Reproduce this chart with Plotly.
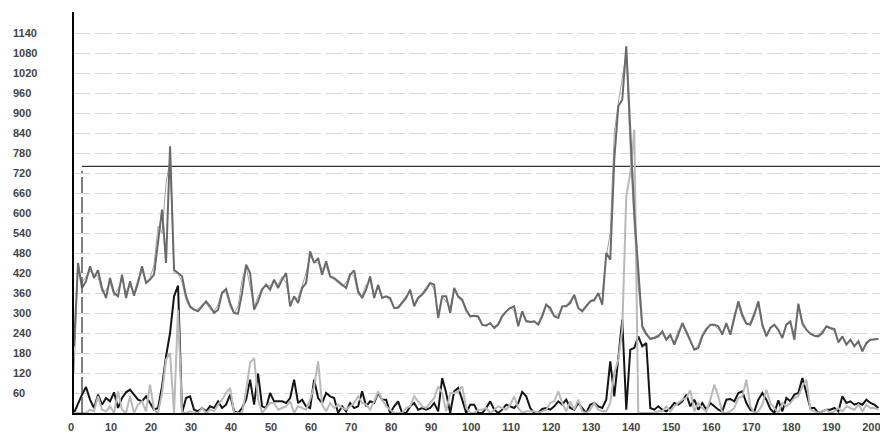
import plotly.graph_objects as go

# ---- data -----------------------------------------------------------------
X_POS = list(range(0, 202))

SERIES_MAIN = [
    200, 450, 375, 395, 440, 405, 428, 375, 345, 405,
    360, 350, 415, 345, 395, 352, 390, 440, 390, 400,
    415, 520, 610, 450, 800, 430, 420, 410, 350, 320,
    310, 305, 320, 335, 320, 300, 310, 360, 372, 330,
    300, 298, 360, 445, 420, 310, 335, 370, 385, 370,
    400, 375, 400, 420, 320, 350, 330, 375, 390, 485,
    450, 465, 415, 455, 410, 405, 395, 385, 375, 415,
    428, 365, 345, 370, 410, 345, 385, 345, 350, 345,
    315, 316, 330, 345, 370, 320, 345, 355, 370, 390,
    385, 285, 350, 350, 300, 375, 350, 340, 310, 290,
    292, 290, 265, 262, 270, 255, 265, 290, 305, 315,
    320, 260, 305, 275, 273, 275, 265, 290, 325, 315,
    290, 285, 320, 320, 330, 355, 315, 305, 320, 335,
    338, 360, 325, 480, 460, 760, 920, 940, 1100, 870,
    600, 430, 260, 238, 222, 225, 230, 245, 220, 235,
    205, 235, 270, 245, 218, 190, 195, 230, 250, 265,
    265, 260, 235, 270, 235, 285, 335, 295, 268, 265,
    295, 335, 265, 230, 255, 265, 250, 225, 265, 275,
    220, 328, 270, 250, 238, 232, 230, 240, 260, 255,
    252, 212, 230, 205, 220, 200, 215, 185, 210, 220,
    222, 222,
]

SERIES_TRACK = [
    120, 430, 390, 410, 425, 418, 410, 362, 368, 392,
    352, 372, 400, 362, 382, 360, 402, 425, 395, 405,
    445, 560, 540, 690, 760, 420, 418, 392, 340, 315,
    308, 312, 326, 330, 312, 305, 325, 365, 362, 318,
    298, 320, 400, 440, 380, 318, 350, 375, 380, 382,
    392, 385, 410, 390, 330, 342, 345, 380, 420, 470,
    455, 450, 432, 440, 408, 400, 390, 380, 390, 420,
    410, 355, 352, 385, 395, 355, 375, 348, 348, 338,
    315, 320, 335, 352, 362, 328, 348, 360, 378, 392,
    370, 300, 350, 335, 318, 370, 345, 335, 302, 290,
    292, 285, 262, 265, 266, 258, 270, 295, 308, 318,
    305, 270, 300, 278, 275, 272, 270, 298, 328, 305,
    292, 295, 318, 322, 338, 348, 312, 310, 325, 338,
    342, 355, 360, 470, 540, 840, 930, 1000, 1080, 790,
    560, 380, 252, 232, 225, 228, 236, 238, 218, 228,
    212, 248, 262, 238, 212, 190, 205, 238, 256, 262,
    262, 252, 242, 262, 240, 298, 322, 285, 266, 272,
    305, 325, 258, 236, 258, 262, 245, 230, 268, 268,
    238, 318, 262, 248, 236, 232, 234, 248, 258, 252,
    246, 218, 225, 210, 215, 205, 210, 192, 205, 218,
    222, 224,
]

SERIES_LOW_DARK = [
    0, 30, 55, 78, 40, 15, 55, 25, 45, 35,
    62, 15, 45, 62, 70, 55, 40, 35, 50, 30,
    10, 15, 80, 170, 240, 350, 382, 0, 45, 50,
    10, 5, 15, 5, 20, 15, 35, 15, 25, 55,
    5, 0, 15, 40, 100, 25, 118, 20, 15, 60,
    35, 35, 35, 30, 45, 100, 30, 40, 20, 15,
    100, 45, 30, 60, 50, 45, 0, 20, 5, 30,
    15, 20, 65, 20, 35, 30, 60, 40, 40, 0,
    20, 35, 0, 0, 20, 30, 10, 15, 10, 15,
    30, 5, 105, 60, 0, 65, 75, 40, 0, 25,
    25, 0, 0, 15, 35, 10, 0, 10, 25, 20,
    15, 30, 63, 50, 15, 0, 0, 12, 15, 10,
    20, 35, 25, 40, 15, 10, 30, 15, 0, 25,
    30, 20, 15, 40, 155, 50, 170, 280, 10, 190,
    195, 230, 200, 210, 15, 10, 20, 10, 5, 15,
    30, 25, 35, 55, 20, 40, 10, 30, 10, 30,
    20, 10, 5, 40, 42, 35, 60, 65, 30, 10,
    5, 40, 60, 40, 12, 0, 38, 5, 45, 35,
    55, 60, 105, 60, 15, 15, 0, 5, 10, 10,
    15, 5, 50, 30, 35, 25, 30, 25, 40, 30,
    25, 15,
]

SERIES_LOW_LIGHT = [
    0, 0, 0, 0, 10, 5, 50, 10, 5, 20,
    0, 65, 10, 0, 50, 0, 25, 35, 5, 85,
    10, 0, 60, 160, 180, 0, 310, 0, 0, 5,
    0, 0, 15, 0, 10, 5, 25, 40, 60, 75,
    0, 0, 0, 65, 150, 165, 40, 0, 15, 30,
    30, 10, 15, 20, 35, 0, 20, 15, 10, 40,
    80, 155, 25, 5, 30, 15, 25, 15, 10, 20,
    30, 50, 30, 25, 10, 35, 65, 40, 20, 10,
    0, 0, 0, 15, 20, 50, 35, 20, 15, 30,
    45, 80, 60, 5, 60, 60, 65, 80, 15, 0,
    0, 10, 10, 15, 0, 10, 20, 15, 10, 25,
    50, 15, 0, 5, 5, 5, 0, 5, 10, 30,
    35, 65, 30, 5, 35, 10, 40, 5, 0, 10,
    30, 10, 5, 5, 30, 120, 160, 250, 650, 720,
    850, 0, 0, 0, 0, 0, 5, 5, 20, 5,
    20, 30, 40, 45, 68, 5, 30, 15, 5, 40,
    85, 50, 0, 0, 5, 15, 45, 50, 100, 20,
    0, 5, 25, 70, 30, 15, 0, 30, 20, 30,
    45, 50, 80, 100, 10, 5, 0, 5, 10, 0,
    5, 15, 5, 20, 15, 10, 25, 5, 25, 15,
    15, 10,
]

X_TICKS = list(range(0, 201, 10))
Y_TICKS = list(range(60, 1141, 60))

THRESHOLD = 740      # horizontal reference level
MARKER_X = 2         # position of the dashed start marker
MARKER_TOP = 727     # height of the dashed start marker

X_MAX = 201.4
Y_MAX = 1203

# ---- figure ---------------------------------------------------------------
FONT = "Liberation Sans"
LABEL_FONT = dict(family=FONT, size=11, color="#454545", weight="bold")

fig = go.Figure()

fig.add_trace(go.Scatter(x=X_POS, y=SERIES_LOW_DARK, mode="lines",
                         line=dict(color="#151515", width=2), hoverinfo="skip"))
fig.add_trace(go.Scatter(x=X_POS, y=SERIES_LOW_LIGHT, mode="lines",
                         line=dict(color="#b9b9b9", width=2), hoverinfo="skip"))
fig.add_trace(go.Scatter(x=X_POS, y=SERIES_TRACK, mode="lines",
                         line=dict(color="#a2a2a2", width=1), hoverinfo="skip"))
fig.add_trace(go.Scatter(x=X_POS, y=SERIES_MAIN, mode="lines",
                         line=dict(color="#6a6a6a", width=2), hoverinfo="skip"))

# threshold line and dashed start marker
fig.add_shape(type="line", xref="x", yref="y",
              x0=MARKER_X, x1=X_MAX, y0=THRESHOLD, y1=THRESHOLD,
              line=dict(color="#333333", width=1.3), layer="below")
fig.add_shape(type="line", xref="x", yref="y",
              x0=MARKER_X, x1=MARKER_X, y0=0, y1=MARKER_TOP,
              line=dict(color="#555555", width=1.5, dash="16px,4px"), layer="above")

# left-aligned value labels for the y axis
for v in Y_TICKS:
    fig.add_annotation(x=0, xref="paper", xanchor="left", xshift=-63,
                       y=v, yref="y", yanchor="middle",
                       text=str(v), showarrow=False, font=LABEL_FONT)

fig.update_layout(
    width=880, height=432, autosize=False,
    margin=dict(l=74, r=0, t=12, b=19),
    paper_bgcolor="white", plot_bgcolor="white",
    showlegend=False,
    font=dict(family=FONT),
    xaxis=dict(
        range=[0, X_MAX], tickvals=X_TICKS, ticktext=[str(t) for t in X_TICKS],
        showgrid=False, zeroline=False, ticks="", automargin=False,
        showline=True, linecolor="#000000", linewidth=2,
        tickfont=LABEL_FONT, ticklabelstandoff=3, ticklabelshift=-3,
        ticklabeloverflow="allow",
    ),
    yaxis=dict(
        range=[0, Y_MAX], tickvals=Y_TICKS, showticklabels=False,
        showgrid=True, gridcolor="#d6d6d6", gridwidth=1, griddash="16px,5px",
        zeroline=False, ticks="", automargin=False,
        showline=True, linecolor="#000000", linewidth=2,
    ),
)

fig.write_html("out.html", include_plotlyjs=True, config={"displayModeBar": False})
